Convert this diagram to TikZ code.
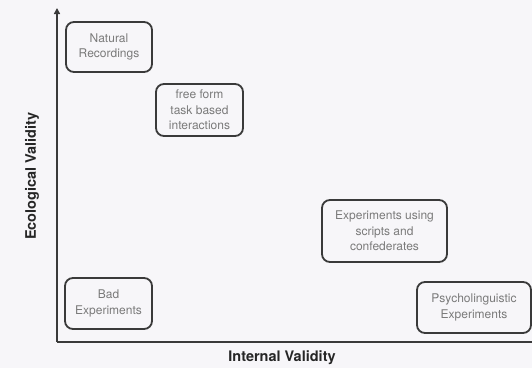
\documentclass[tikz,border=0pt]{standalone}
\usepackage{fontspec}
\setmainfont{TeX Gyre Heros}
\usetikzlibrary{arrows.meta}
\definecolor{paper}{HTML}{F7F6F9}
\definecolor{boxline}{HTML}{3A3A3A}
\definecolor{boxtext}{HTML}{7A7A7A}
\tikzset{
  study/.style={draw=boxline, line width=1.8pt, rounded corners=8pt, align=center,
    text=boxtext, font=\fontsize{12}{15.5}\selectfont, inner sep=0pt},
  axislabel/.style={font=\fontsize{14.5}{16}\selectfont\bfseries, text=black!85}
}
\begin{document}
\begin{tikzpicture}[x=1pt,y=1pt]
      \fill[paper] (0,0) rectangle (532,368);
      \useasboundingbox (0,0) rectangle (532,368);
      \coordinate (origin) at (57,26);
      \coordinate (top) at (57,360);
      \coordinate (right) at (534,26);
      \draw
        (109,321) node[study, minimum width=86pt, minimum height=50pt] (natural){Natural\\Recordings}
        (199.5,258) node[study, minimum width=87pt, minimum height=52pt] (freeform){free form\\task based\\interactions}
        (384.5,137) node[study, minimum width=125pt, minimum height=62pt] (scripted){Experiments using\\scripts and\\confederates}
        (474,60.5) node[study, minimum width=114pt, minimum height=51pt] (psycho){Psycholinguistic\\Experiments}
        (108.5,64.5) node[study, minimum width=87pt, minimum height=51pt] (bad){Bad\\Experiments};
      \begin{scope}[line width=1.8pt, draw=boxline]
        \draw[-{Triangle[width=6pt,length=6pt]}] (origin) to (top);
        \draw (origin) to (right);
      \end{scope}
      \draw
        (32,192) node[axislabel, rotate=90] (ecolabel){Ecological Validity}
        (282,10) node[axislabel] (intlabel){Internal Validity};
    \end{tikzpicture}
\end{document}
